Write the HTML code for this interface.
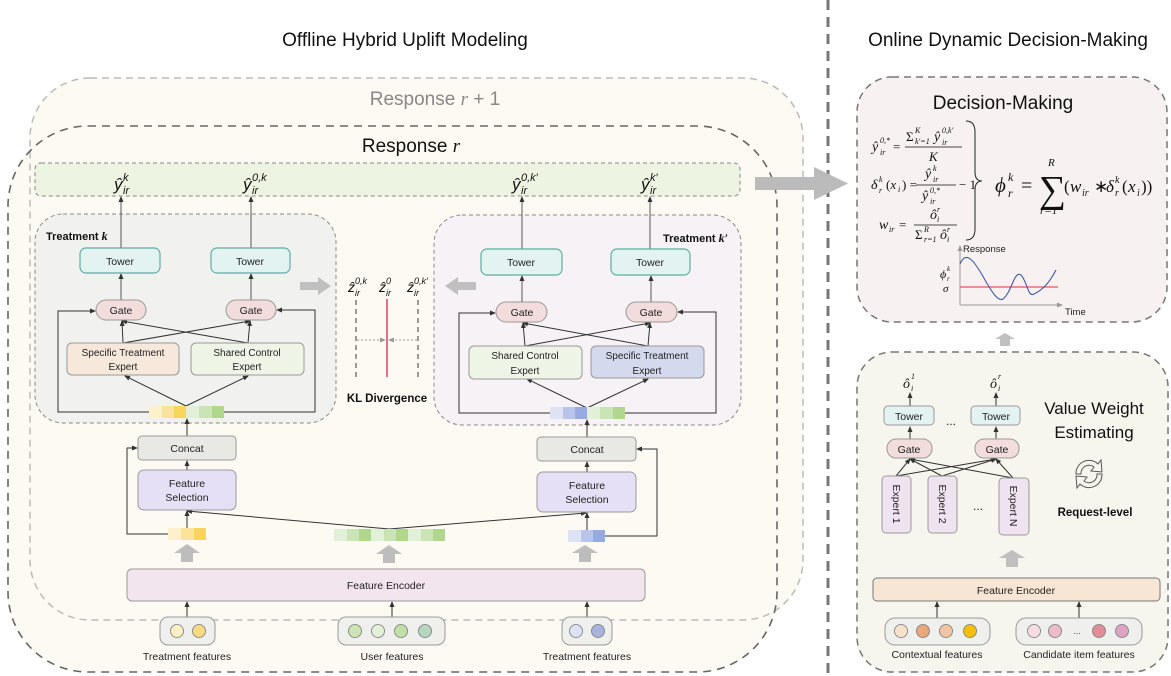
<!DOCTYPE html>
<html><head><meta charset="utf-8"><style>
html,body{margin:0;padding:0;background:#fff;}
svg{display:block;}
text{font-family:"Liberation Sans",sans-serif;}
.m{font-family:"Liberation Serif",serif;font-style:italic;fill:#111;}
.n{font-family:"Liberation Serif",serif;fill:#111;}
</style></head><body>
<svg width="1171" height="676" viewBox="0 0 1171 676" xmlns="http://www.w3.org/2000/svg">
<defs>
<marker id="a" markerWidth="6" markerHeight="6" refX="5" refY="3" orient="auto" markerUnits="userSpaceOnUse"><path d="M0,0.5 L6,3 L0,5.5z" fill="#333"/></marker>
<marker id="g" markerWidth="6" markerHeight="6" refX="5" refY="3" orient="auto" markerUnits="userSpaceOnUse"><path d="M0,0.5 L6,3 L0,5.5z" fill="#999"/></marker>
</defs>

<text x="405" y="46" font-size="19" text-anchor="middle" fill="#111">Offline Hybrid Uplift Modeling</text>
<text x="1008" y="46" font-size="19" text-anchor="middle" fill="#111">Online Dynamic Decision-Making</text>
<line x1="828" y1="0" x2="828" y2="676" stroke="#777" stroke-width="3" stroke-dasharray="10,7"/>

<rect x="30" y="78" width="773" height="542" rx="60" fill="#fcfaf2"/>
<rect x="8" y="126" width="769" height="546" rx="80" fill="#fcfaf2"/>
<rect x="30" y="78" width="773" height="542" rx="60" fill="none" stroke="#bbb" stroke-width="1.5" stroke-dasharray="7,5"/>
<rect x="8" y="126" width="769" height="546" rx="80" fill="none" stroke="#666" stroke-width="1.6" stroke-dasharray="8,6"/>
<text x="435" y="105" font-size="19" text-anchor="middle" fill="#888">Response <tspan font-family="Liberation Serif" font-style="italic">r</tspan> + 1</text>
<text x="411" y="152" font-size="19" text-anchor="middle" fill="#111">Response <tspan font-family="Liberation Serif" font-style="italic">r</tspan></text>

<rect x="35" y="163" width="705" height="33" rx="6" fill="#eef4e2" stroke="#888" stroke-dasharray="4,3"/>
<g class="m">
<text x="114" y="190" font-size="17">ŷ</text><text x="123" y="194" font-size="11">ir</text><text x="123" y="181" font-size="11">k</text>
<text x="243" y="190" font-size="17">ŷ</text><text x="252" y="194" font-size="11">ir</text><text x="252" y="181" font-size="11">0,k</text>
<text x="512" y="190" font-size="17">ŷ</text><text x="521" y="194" font-size="11">ir</text><text x="521" y="181" font-size="11">0,k′</text>
<text x="641" y="190" font-size="17">ŷ</text><text x="650" y="194" font-size="11">ir</text><text x="650" y="181" font-size="11">k′</text>
</g>
<path d="M755,177 L814,177 L814,167 L848,183.5 L814,200 L814,190 L755,190z" fill="#bbb"/>

<rect x="35" y="214" width="301" height="209" rx="28" fill="#f1f1ef" stroke="#888" stroke-dasharray="4,3"/>
<text x="46" y="240" font-size="11" font-weight="bold" fill="#111">Treatment <tspan font-family="Liberation Serif" font-style="italic" font-size="12">k</tspan></text>
<rect x="434" y="215" width="307" height="210" rx="28" fill="#f6f2f5" stroke="#888" stroke-dasharray="4,3"/>
<text x="663" y="242" font-size="11" font-weight="bold" fill="#111">Treatment <tspan font-family="Liberation Serif" font-style="italic" font-size="12">k′</tspan></text>

<g stroke="#555" stroke-width="1" fill="none">
<line x1="121" y1="248" x2="121" y2="197" marker-end="url(#a)"/>
<line x1="251" y1="248" x2="251" y2="197" marker-end="url(#a)"/>
<line x1="522" y1="249" x2="522" y2="197" marker-end="url(#a)"/>
<line x1="650" y1="249" x2="650" y2="197" marker-end="url(#a)"/>
<line x1="121" y1="300" x2="121" y2="274" marker-end="url(#a)"/>
<line x1="251" y1="300" x2="251" y2="274" marker-end="url(#a)"/>
<line x1="522" y1="302" x2="522" y2="276" marker-end="url(#a)"/>
<line x1="651" y1="302" x2="651" y2="276" marker-end="url(#a)"/>
</g>
<g stroke="#333" stroke-width="1" fill="none">
<line x1="123" y1="343" x2="122" y2="321" marker-end="url(#a)"/>
<line x1="123" y1="343" x2="250" y2="321" marker-end="url(#a)"/>
<line x1="248" y1="343" x2="122" y2="321" marker-end="url(#a)"/>
<line x1="248" y1="343" x2="250" y2="321" marker-end="url(#a)"/>
<line x1="186" y1="406" x2="125" y2="376" marker-end="url(#a)"/>
<line x1="186" y1="406" x2="248" y2="376" marker-end="url(#a)"/>
<polyline points="149,412 58,412 58,311 95,311" marker-end="url(#a)"/>
<polyline points="224,412 315,412 315,310 277,310" marker-end="url(#a)"/>
<line x1="525" y1="346" x2="523" y2="323" marker-end="url(#a)"/>
<line x1="525" y1="346" x2="650" y2="323" marker-end="url(#a)"/>
<line x1="648" y1="346" x2="523" y2="323" marker-end="url(#a)"/>
<line x1="648" y1="346" x2="650" y2="323" marker-end="url(#a)"/>
<line x1="587" y1="408" x2="527" y2="379" marker-end="url(#a)"/>
<line x1="587" y1="408" x2="648" y2="379" marker-end="url(#a)"/>
<polyline points="550,413 459,413 459,313 495,313" marker-end="url(#a)"/>
<polyline points="625,413 716,413 716,312 678,312" marker-end="url(#a)"/>
<line x1="187" y1="436" x2="187" y2="419" marker-end="url(#a)"/>
<line x1="587" y1="437" x2="587" y2="420" marker-end="url(#a)"/>
<line x1="187" y1="470" x2="187" y2="461" marker-end="url(#a)"/>
<line x1="587" y1="472" x2="587" y2="462" marker-end="url(#a)"/>
<line x1="187" y1="528" x2="187" y2="511" marker-end="url(#a)"/>
<line x1="587" y1="530" x2="587" y2="513" marker-end="url(#a)"/>
<polyline points="389,529 187,511" marker-end="url(#a)"/>
<polyline points="389,529 586,513" marker-end="url(#a)"/>
<polyline points="168,534 127,534 127,448 137,448" marker-end="url(#a)"/>
<polyline points="605,536 657,536 657,449 637,449" marker-end="url(#a)"/>
<line x1="187" y1="617" x2="187" y2="602" marker-end="url(#a)"/>
<line x1="392" y1="617" x2="392" y2="602" marker-end="url(#a)"/>
<line x1="587" y1="617" x2="587" y2="602" marker-end="url(#a)"/>
</g>

<g fill="#e2f3f1" stroke="#5eaea3" stroke-width="1.2">
<rect x="80" y="248" width="80" height="25" rx="6"/><rect x="211" y="248" width="79" height="25" rx="6"/>
<rect x="481" y="249" width="81" height="26" rx="6"/><rect x="611" y="249" width="79" height="26" rx="6"/>
</g>
<g font-size="10.5" text-anchor="middle" fill="#222">
<text x="120" y="265">Tower</text><text x="250" y="265">Tower</text>
<text x="521" y="266">Tower</text><text x="650" y="266">Tower</text>
</g>
<g fill="#f2dcdc" stroke="#999" stroke-width="1">
<rect x="96" y="300" width="50" height="20" rx="10"/><rect x="226" y="300" width="50" height="20" rx="10"/>
<rect x="496" y="302" width="51" height="20" rx="10"/><rect x="626" y="302" width="51" height="20" rx="10"/>
</g>
<g font-size="10.5" text-anchor="middle" fill="#222">
<text x="121" y="314">Gate</text><text x="251" y="314">Gate</text>
<text x="522" y="316">Gate</text><text x="651" y="316">Gate</text>
</g>
<rect x="67" y="343" width="112" height="32" rx="5" fill="#f7e8dc" stroke="#999"/>
<rect x="191" y="343" width="113" height="32" rx="5" fill="#eef5e7" stroke="#999"/>
<rect x="469" y="346" width="113" height="33" rx="5" fill="#eef5e7" stroke="#999"/>
<rect x="591" y="346" width="113" height="32" rx="5" fill="#d4d9ee" stroke="#999"/>
<g font-size="10" text-anchor="middle" fill="#222">
<text x="123" y="356">Specific Treatment</text><text x="123" y="370">Expert</text>
<text x="247" y="356">Shared Control</text><text x="247" y="370">Expert</text>
<text x="525" y="359">Shared Control</text><text x="525" y="374">Expert</text>
<text x="647" y="359">Specific Treatment</text><text x="647" y="374">Expert</text>
</g>
<g>
<rect x="149" y="406" width="13" height="12" fill="#fdf1cc"/><rect x="162" y="406" width="12" height="12" fill="#fbe49a"/><rect x="174" y="406" width="12" height="12" fill="#f9d65a"/>
<rect x="186" y="406" width="13" height="12" fill="#e3f0d8"/><rect x="199" y="406" width="13" height="12" fill="#cbe4b6"/><rect x="212" y="406" width="12" height="12" fill="#b1d78d"/>
<rect x="550" y="407" width="13" height="12" fill="#dde2f4"/><rect x="563" y="407" width="12" height="12" fill="#b8c4ea"/><rect x="575" y="407" width="12" height="12" fill="#97abe0"/>
<rect x="587" y="407" width="13" height="12" fill="#e3f0d8"/><rect x="600" y="407" width="13" height="12" fill="#cbe4b6"/><rect x="613" y="407" width="12" height="12" fill="#b1d78d"/>
</g>

<!-- KL -->
<g class="m">
<text x="348" y="292" font-size="14">ẑ</text><text x="355" y="296" font-size="9">ir</text><text x="355" y="284" font-size="9">0,k</text>
<text x="379" y="292" font-size="14">ẑ</text><text x="386" y="296" font-size="9">ir</text><text x="386" y="284" font-size="9">0</text>
<text x="407" y="292" font-size="14">ẑ</text><text x="414" y="296" font-size="9">ir</text><text x="414" y="284" font-size="9">0,k′</text>
</g>
<line x1="356" y1="300" x2="356" y2="377" stroke="#666" stroke-width="1.3" stroke-dasharray="5,4"/>
<line x1="418" y1="300" x2="418" y2="377" stroke="#666" stroke-width="1.3" stroke-dasharray="5,4"/>
<line x1="387" y1="299" x2="387" y2="377" stroke="#d9536a" stroke-width="1.6"/>
<line x1="357" y1="340" x2="385" y2="340" stroke="#999" stroke-dasharray="2,2" marker-end="url(#g)"/>
<line x1="417" y1="340" x2="389" y2="340" stroke="#999" stroke-dasharray="2,2" marker-end="url(#g)"/>
<text x="387" y="402" font-size="11.5" font-weight="bold" text-anchor="middle" fill="#111">KL Divergence</text>
<path d="M300,282 L318,282 L318,277 L331,286 L318,295 L318,290 L300,290z" fill="#c0c0c0"/>
<path d="M476,282 L458,282 L458,277 L445,286 L458,295 L458,290 L476,290z" fill="#c0c0c0"/>

<rect x="138" y="436" width="98" height="24" rx="4" fill="#e8e8e4" stroke="#999"/>
<rect x="537" y="437" width="99" height="24" rx="4" fill="#e8e8e4" stroke="#999"/>
<text x="187" y="452" font-size="10.5" text-anchor="middle" fill="#222">Concat</text>
<text x="587" y="453" font-size="10.5" text-anchor="middle" fill="#222">Concat</text>
<rect x="138" y="470" width="98" height="40" rx="6" fill="#e6e0f6" stroke="#999"/>
<rect x="537" y="472" width="99" height="40" rx="6" fill="#e6e0f6" stroke="#999"/>
<g font-size="10.5" text-anchor="middle" fill="#222">
<text x="187" y="487">Feature</text><text x="187" y="501">Selection</text>
<text x="587" y="489">Feature</text><text x="587" y="503">Selection</text>
</g>
<rect x="168" y="528" width="13" height="12" fill="#fdf1cc"/><rect x="181" y="528" width="13" height="12" fill="#fbe49a"/><rect x="194" y="528" width="12" height="12" fill="#f9d65a"/>
<g>
<rect x="334" y="529" width="13" height="12" fill="#e3f0d8"/><rect x="347" y="529" width="12" height="12" fill="#cbe4b6"/><rect x="359" y="529" width="12" height="12" fill="#b1d78d"/>
<rect x="371" y="529" width="13" height="12" fill="#e3f0d8"/><rect x="384" y="529" width="12" height="12" fill="#cbe4b6"/><rect x="396" y="529" width="12" height="12" fill="#b1d78d"/>
<rect x="408" y="529" width="13" height="12" fill="#e3f0d8"/><rect x="421" y="529" width="12" height="12" fill="#cbe4b6"/><rect x="433" y="529" width="12" height="12" fill="#b1d78d"/>
</g>
<rect x="568" y="530" width="13" height="12" fill="#dde2f4"/><rect x="581" y="530" width="12" height="12" fill="#b8c4ea"/><rect x="593" y="530" width="12" height="12" fill="#97abe0"/>
<g fill="#bdbdbd">
<path d="M187,544 L200,553 L193,553 L193,562 L181,562 L181,553 L174,553z"/>
<path d="M389,545 L402,554 L395,554 L395,563 L383,563 L383,554 L376,554z"/>
<path d="M585,545 L598,553 L591,553 L591,562 L579,562 L579,553 L572,553z"/>
</g>
<rect x="127" y="569" width="518" height="32" rx="5" fill="#f3e5ee" stroke="#999"/>
<text x="386" y="589" font-size="10.5" text-anchor="middle" fill="#222">Feature Encoder</text>
<rect x="160" y="617" width="55" height="28" rx="8" fill="#efefed" stroke="#999"/>
<circle cx="177" cy="631" r="6.5" fill="#fbefc4" stroke="#777" stroke-width="0.8"/><circle cx="199" cy="631" r="6.5" fill="#f8db80" stroke="#777" stroke-width="0.8"/>
<rect x="338" y="617" width="107" height="28" rx="8" fill="#efefed" stroke="#999"/>
<circle cx="355" cy="631" r="6.5" fill="#cce4b6" stroke="#777" stroke-width="0.8"/><circle cx="378" cy="631" r="6.5" fill="#e3f0d8" stroke="#777" stroke-width="0.8"/><circle cx="401" cy="631" r="6.5" fill="#c1dfa9" stroke="#777" stroke-width="0.8"/><circle cx="425" cy="631" r="6.5" fill="#b6d6bf" stroke="#777" stroke-width="0.8"/>
<rect x="562" y="617" width="50" height="28" rx="8" fill="#efefed" stroke="#999"/>
<circle cx="576" cy="631" r="6.5" fill="#dde2f4" stroke="#777" stroke-width="0.8"/><circle cx="598" cy="631" r="6.5" fill="#a9b4de" stroke="#777" stroke-width="0.8"/>
<g font-size="10.5" text-anchor="middle" fill="#222">
<text x="187" y="660">Treatment features</text><text x="392" y="660">User features</text><text x="587" y="660">Treatment features</text>
</g>

<!-- Decision-Making -->
<rect x="857" y="77" width="310" height="245" rx="35" fill="#f8f1f1" stroke="#777" stroke-width="1.5" stroke-dasharray="7,5"/>
<text x="1003" y="109" font-size="19" text-anchor="middle" fill="#111">Decision-Making</text>
<!-- line1 -->
<text class="m" x="872" y="151" font-size="14">ŷ</text><text class="m" x="880" y="155" font-size="8">ir</text><text class="m" x="880" y="143" font-size="8">0,*</text>
<text class="n" x="893" y="151" font-size="13">=</text>
<text class="n" x="906" y="141" font-size="13">Σ</text><text class="m" x="915" y="133" font-size="8">K</text><text class="m" x="915" y="144" font-size="8">k′=1</text>
<text class="m" x="934" y="141" font-size="14">ŷ</text><text class="m" x="942" y="145" font-size="8">ir</text><text class="m" x="942" y="133" font-size="8">0,k′</text>
<line x1="905" y1="147" x2="962" y2="147" stroke="#111" stroke-width="0.8"/>
<text class="m" x="929" y="161" font-size="13">K</text>
<!-- line2 -->
<text class="m" x="871" y="189" font-size="14">δ</text><text class="m" x="879" y="193" font-size="8">r</text><text class="m" x="879" y="182" font-size="8">k</text>
<text class="n" x="886" y="189" font-size="13">(<tspan font-style="italic">x</tspan></text><text class="m" x="898" y="192" font-size="8">i</text><text class="n" x="902" y="189" font-size="13">) =</text>
<text class="m" x="925" y="178" font-size="14">ŷ</text><text class="m" x="933" y="182" font-size="8">ir</text><text class="m" x="933" y="171" font-size="8">k</text>
<line x1="916" y1="185" x2="956" y2="185" stroke="#111" stroke-width="0.8"/>
<text class="m" x="922" y="200" font-size="14">ŷ</text><text class="m" x="930" y="204" font-size="8">ir</text><text class="m" x="930" y="193" font-size="8">0,*</text>
<text class="n" x="959" y="189" font-size="13">− 1</text>
<!-- line3 -->
<text class="m" x="879" y="229" font-size="14">w</text><text class="m" x="889" y="232" font-size="8">ir</text><text class="n" x="899" y="229" font-size="13">=</text>
<text class="m" x="930" y="219" font-size="14">ô</text><text class="m" x="937" y="222" font-size="8">i</text><text class="m" x="937" y="212" font-size="8">r</text>
<line x1="914" y1="225" x2="957" y2="225" stroke="#111" stroke-width="0.8"/>
<text class="n" x="915" y="239" font-size="13">Σ</text><text class="m" x="924" y="232" font-size="8">R</text><text class="m" x="924" y="242" font-size="8">r=1</text>
<text class="m" x="940" y="239" font-size="14">ô</text><text class="m" x="947" y="242" font-size="8">i</text><text class="m" x="947" y="232" font-size="8">r</text>
<path d="M966,121 Q975,121 975,132 L975,172 Q975,181 982,181 Q975,181 975,190 L975,229 Q975,240 966,240" fill="none" stroke="#222" stroke-width="1"/>
<!-- big formula -->
<text class="m" x="995" y="192" font-size="21">ϕ</text><text class="m" x="1008" y="197" font-size="12">r</text><text class="m" x="1008" y="181" font-size="12">k</text>
<text class="n" x="1021" y="192" font-size="20">=</text>
<text class="n" x="1039" y="202" font-size="38">∑</text>
<text class="m" x="1048" y="166" font-size="11">R</text>
<text class="m" x="1040" y="214" font-size="11">r=1</text>
<text class="n" x="1064" y="192" font-size="17">(</text><text class="m" x="1070" y="192" font-size="17">w</text><text class="m" x="1082" y="196" font-size="10">ir</text>
<text class="n" x="1094" y="192" font-size="17">∗</text>
<text class="m" x="1106" y="192" font-size="17">δ</text><text class="m" x="1115" y="196" font-size="10">r</text><text class="m" x="1115" y="183" font-size="10">k</text>
<text class="n" x="1122" y="192" font-size="17">(</text><text class="m" x="1128" y="192" font-size="17">x</text><text class="m" x="1137" y="196" font-size="10">i</text><text class="n" x="1141" y="192" font-size="17">))</text>
<!-- chart -->
<line x1="960" y1="305" x2="960" y2="246" stroke="#999" marker-end="url(#g)"/>
<line x1="960" y1="305" x2="1062" y2="305" stroke="#999" marker-end="url(#g)"/>
<text x="963" y="252" font-size="9.5" fill="#222">Response</text>
<text x="1065" y="315" font-size="9.5" fill="#222">Time</text>
<text class="m" x="940" y="278" font-size="12">ϕ</text><text class="m" x="947" y="281" font-size="7">r</text><text class="m" x="947" y="271" font-size="7">k</text>
<text class="m" x="943" y="292" font-size="11">σ</text>
<line x1="960" y1="287" x2="1058" y2="287" stroke="#e25a5a" stroke-width="1.3"/>
<path d="M960,264 C966,250 974,260 985,280 C992,292 998,302 1003,299 C1012,292 1014,270 1021,275 C1027,281 1028,298 1034,294 C1042,290 1048,285 1056,270" fill="none" stroke="#3c5aa5" stroke-width="1.1"/>

<path d="M1005,333 L1015,339 L1010,339 L1010,346 L1000,346 L1000,339 L995,339z" fill="#c0c0c0"/>

<!-- Value weight -->
<rect x="857" y="352" width="311" height="320" rx="35" fill="#f7f6ee" stroke="#777" stroke-width="1.5" stroke-dasharray="7,5"/>
<text x="1094" y="414" font-size="17" text-anchor="middle" fill="#111">Value Weight</text>
<text x="1094" y="438" font-size="17" text-anchor="middle" fill="#111">Estimating</text>
<text class="m" x="903" y="388" font-size="14">ô</text><text class="m" x="911" y="391" font-size="8">i</text><text class="m" x="911" y="379" font-size="8">1</text>
<text class="m" x="990" y="388" font-size="14">ô</text><text class="m" x="998" y="391" font-size="8">i</text><text class="m" x="998" y="379" font-size="8">r</text>
<g stroke="#333" fill="none">
<line x1="910" y1="406" x2="910" y2="393" marker-end="url(#a)"/>
<line x1="996" y1="406" x2="996" y2="393" marker-end="url(#a)"/>
<line x1="910" y1="439" x2="910" y2="427" marker-end="url(#a)"/>
<line x1="996" y1="439" x2="996" y2="427" marker-end="url(#a)"/>
<line x1="896" y1="476" x2="910" y2="459" marker-end="url(#a)"/>
<line x1="896" y1="476" x2="996" y2="459" marker-end="url(#a)"/>
<line x1="942" y1="476" x2="910" y2="459" marker-end="url(#a)"/>
<line x1="942" y1="476" x2="996" y2="459" marker-end="url(#a)"/>
<line x1="1013" y1="478" x2="910" y2="459" marker-end="url(#a)"/>
<line x1="1013" y1="478" x2="996" y2="459" marker-end="url(#a)"/>
<line x1="937" y1="618" x2="937" y2="602" marker-end="url(#a)"/>
<line x1="1079" y1="618" x2="1079" y2="602" marker-end="url(#a)"/>
</g>
<rect x="884" y="406" width="50" height="19" rx="4" fill="#e2f3f1" stroke="#999"/>
<rect x="971" y="406" width="49" height="19" rx="4" fill="#e2f3f1" stroke="#999"/>
<text x="909" y="420" font-size="10.5" text-anchor="middle" fill="#222">Tower</text>
<text x="996" y="420" font-size="10.5" text-anchor="middle" fill="#222">Tower</text>
<text x="951" y="425" font-size="12" text-anchor="middle" fill="#222">...</text>
<rect x="887" y="439" width="45" height="19" rx="9" fill="#f2dcdc" stroke="#999"/>
<rect x="975" y="439" width="44" height="19" rx="9" fill="#f2dcdc" stroke="#999"/>
<text x="909" y="453" font-size="10.5" text-anchor="middle" fill="#222">Gate</text>
<text x="997" y="453" font-size="10.5" text-anchor="middle" fill="#222">Gate</text>
<rect x="882" y="476" width="29" height="57" rx="4" fill="#efe3f0" stroke="#999"/>
<rect x="928" y="476" width="29" height="57" rx="4" fill="#efe3f0" stroke="#999"/>
<rect x="999" y="478" width="30" height="57" rx="4" fill="#efe3f0" stroke="#999"/>
<g font-size="10.5" text-anchor="middle" fill="#222">
<text transform="translate(893,504) rotate(90)">Expert 1</text>
<text transform="translate(939,504) rotate(90)">Expert 2</text>
<text transform="translate(1010,506) rotate(90)">Expert N</text>
</g>
<text x="978" y="510" font-size="12" text-anchor="middle" fill="#222">...</text>
<g fill="none" stroke="#555" stroke-width="1">
<path d="M1076,474 A13,13 0 0 1 1098,464 L1101,460 L1102,472 L1091,471 L1094,467 A8,8 0 0 0 1081,474 z"/>
<path d="M1102,474 A13,13 0 0 1 1080,484 L1077,488 L1076,476 L1087,477 L1084,481 A8,8 0 0 0 1097,474 z"/>
</g>
<text x="1095" y="516" font-size="11.5" font-weight="bold" text-anchor="middle" fill="#111">Request-level</text>
<path d="M1012,550 L1025,558 L1018,558 L1018,567 L1006,567 L1006,558 L999,558z" fill="#c0c0c0"/>
<rect x="873" y="578" width="287" height="23" rx="4" fill="#f7e6d3" stroke="#777"/>
<text x="1016" y="594" font-size="10.5" text-anchor="middle" fill="#222">Feature Encoder</text>
<rect x="885" y="618" width="105" height="27" rx="10" fill="#efefed" stroke="#999"/>
<circle cx="901" cy="631" r="6.5" fill="#f9e2cc" stroke="#777" stroke-width="0.8"/><circle cx="923" cy="631" r="6.5" fill="#e8a97a" stroke="#777" stroke-width="0.8"/><circle cx="946" cy="631" r="6.5" fill="#f2c6a3" stroke="#777" stroke-width="0.8"/><circle cx="970" cy="631" r="6.5" fill="#f4c00c" stroke="#777" stroke-width="0.8"/>
<rect x="1016" y="618" width="126" height="27" rx="10" fill="#efefed" stroke="#999"/>
<circle cx="1034" cy="631" r="6.5" fill="#f7dde2" stroke="#777" stroke-width="0.8"/><circle cx="1055" cy="631" r="6.5" fill="#eebcc8" stroke="#777" stroke-width="0.8"/><text x="1077" y="634" font-size="9" text-anchor="middle" fill="#444">...</text><circle cx="1099" cy="631" r="6.5" fill="#e18d98" stroke="#777" stroke-width="0.8"/><circle cx="1122" cy="631" r="6.5" fill="#dca4c2" stroke="#777" stroke-width="0.8"/>
<text x="937" y="658" font-size="10.5" text-anchor="middle" fill="#222">Contextual features</text>
<text x="1079" y="658" font-size="10.5" text-anchor="middle" fill="#222">Candidate item features</text>
</svg>
</body></html>
